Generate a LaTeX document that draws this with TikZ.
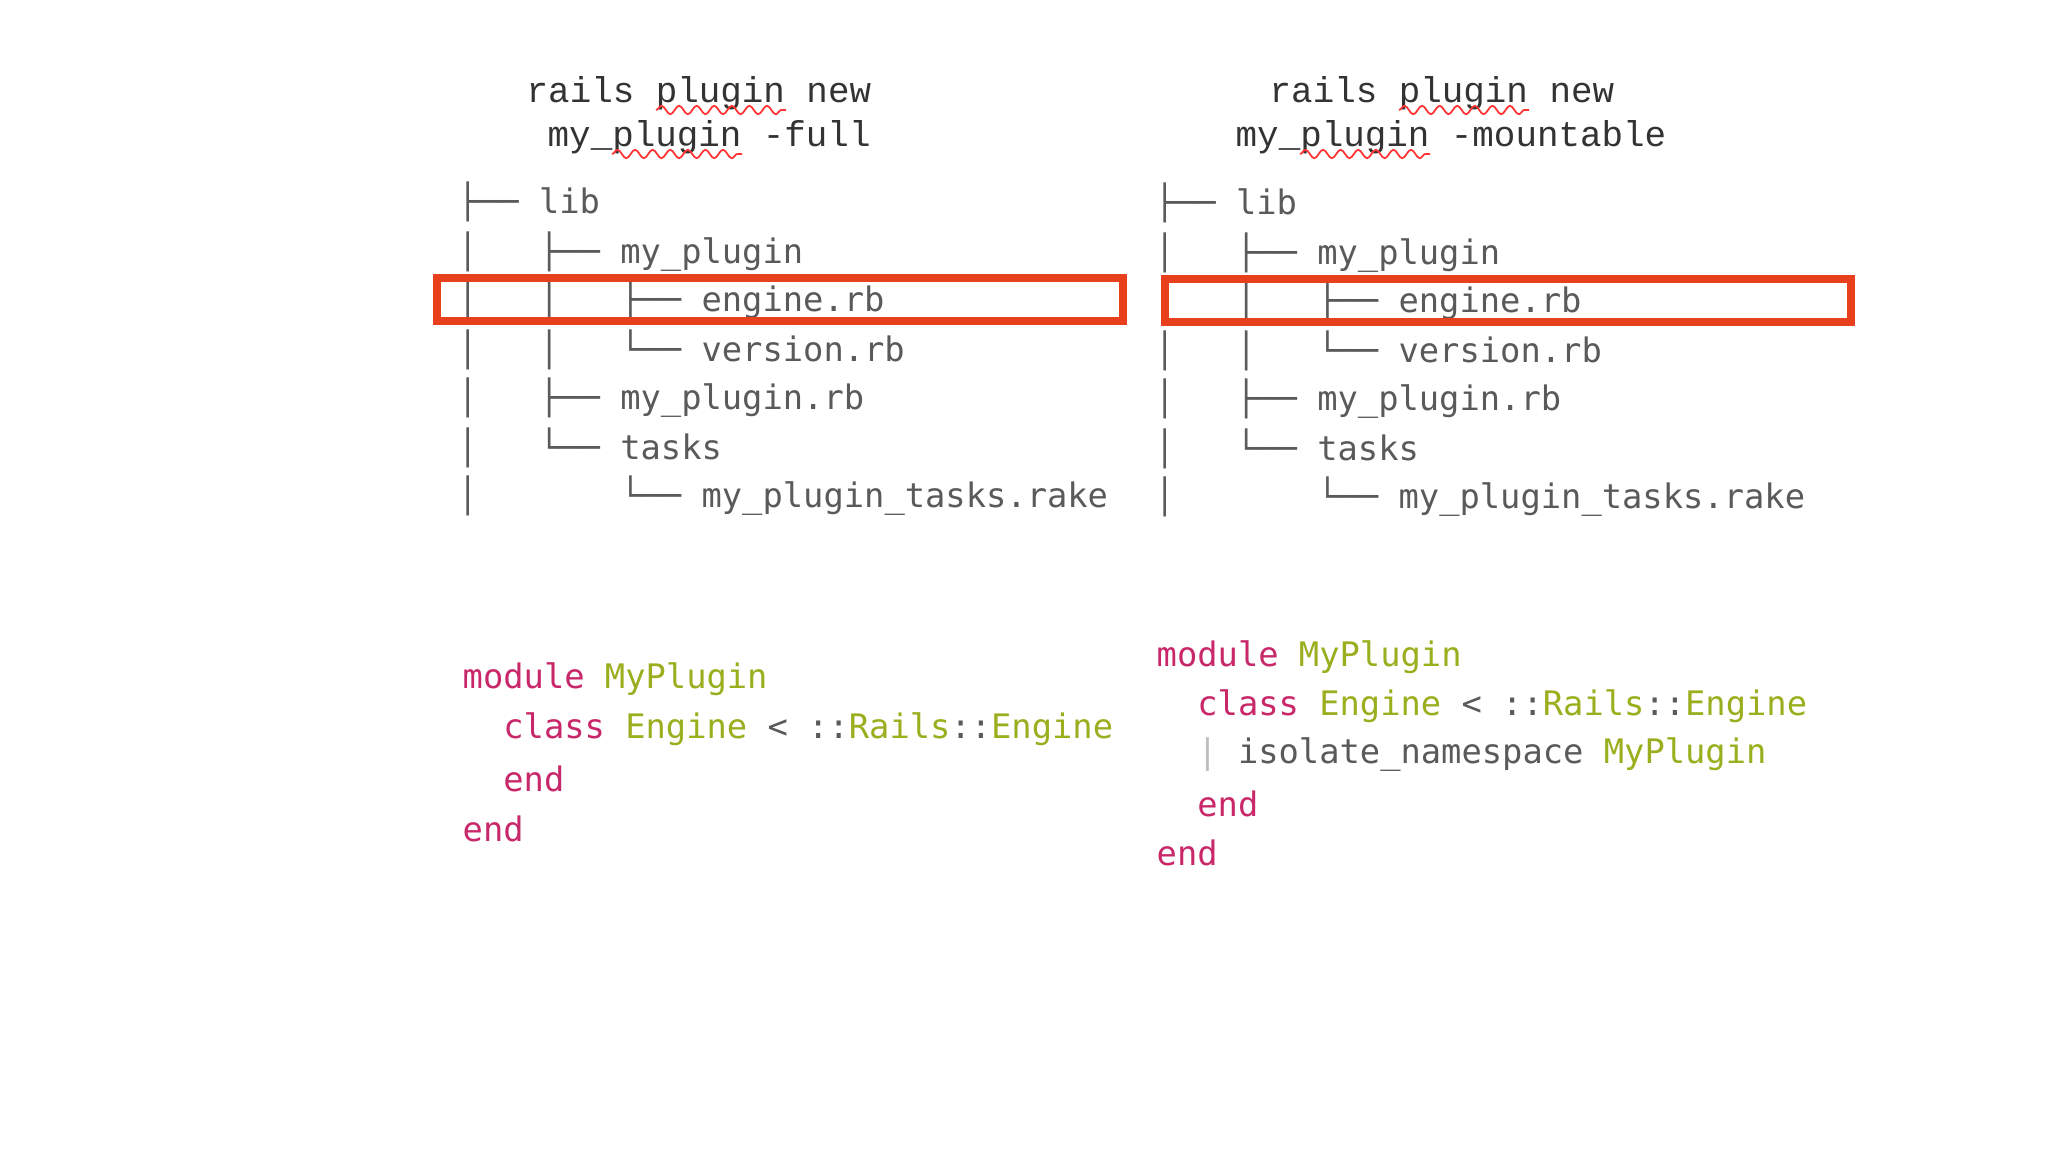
\documentclass[tikz,border=0pt]{standalone}
\usepackage{fontspec}
\setmonofont{DejaVu Sans Mono}
\newfontfamily\titlefont{Liberation Mono}
\usetikzlibrary{decorations.pathmorphing}
\definecolor{tg}{HTML}{5A5A5A}
\definecolor{kw}{HTML}{C8286A}
\definecolor{cn}{HTML}{9AAE1E}
\definecolor{rb}{HTML}{E8401C}
\begin{document}
\begin{tikzpicture}[x=0.01cm,y=-0.01cm,
  tree/.style={anchor=west,inner sep=0,font=\ttfamily\fontsize{9.6}{11}\selectfont,text=tg},
  ttl/.style={anchor=west,inner sep=0,font=\titlefont\fontsize{10.2}{12}\selectfont,text=black!80},
  code/.style={anchor=west,inner sep=0,font=\ttfamily\fontsize{9.6}{11}\selectfont,text=tg},
  hl/.style={draw=rb,line width=2.2pt},
  sq/.style={draw=red!80,line width=0.5pt,decorate,decoration={snake,amplitude=1.2,segment length=5}}]
\useasboundingbox (0,0) rectangle (2048,1152);
\fill[white] (0,0) rectangle (2048,1152);
% titles
\node[ttl] (t1) at (526,93) {rails plugin new};
\node[ttl] (t2) at (547,137) {my\_plugin -full};
\node[ttl] (t3) at (1269,93) {rails plugin new};
\node[ttl] (t4) at (1235,137) {my\_plugin -mountable};
\coordinate (s1a) at (656,110); \coordinate (s1b) at (786,110);
\coordinate (s2a) at (612,154); \coordinate (s2b) at (742,154);
\coordinate (s3a) at (1399,110); \coordinate (s3b) at (1529,110);
\coordinate (s4a) at (1300,154); \coordinate (s4b) at (1430,154);
\draw[sq] (s1a) -- (s1b); \draw[sq] (s2a) -- (s2b);
\draw[sq] (s3a) -- (s3b); \draw[sq] (s4a) -- (s4b);
% trees
\foreach \i/\t/\y in {1/{├──~lib}/202,2/{│~~~├──~my\_plugin}/252,3/{│~~~│~~~├──~engine.rb}/300,4/{│~~~│~~~└──~version.rb}/350,5/{│~~~├──~my\_plugin.rb}/398,6/{│~~~└──~tasks}/448,7/{│~~~~~~~└──~my\_plugin\_tasks.rake}/496}{
  \node[tree] (l\i) at (457,\y) {\t};
  \node[tree] (r\i) at (1154,\y+1) {\t};
}
\coordinate (b1a) at (437,278); \coordinate (b1b) at (1123,321);
\coordinate (b2a) at (1165,279); \coordinate (b2b) at (1851,322);
\draw[hl] (b1a) rectangle (b1b);
\draw[hl] (b2a) rectangle (b2b);
% code left
\node[code] (c1) at (462,679) {\textcolor{kw}{module} \textcolor{cn}{MyPlugin}};
\node[code] (c2) at (462,729) {\phantom{xx}\textcolor{kw}{class} \textcolor{cn}{Engine} < ::\textcolor{cn}{Rails}::\textcolor{cn}{Engine}};
\node[code] (c3) at (462,779) {\phantom{xx}\textcolor{kw}{end}};
\node[code] (c4) at (462,829) {\textcolor{kw}{end}};
% code right
\node[code] (d1) at (1156,657) {\textcolor{kw}{module} \textcolor{cn}{MyPlugin}};
\node[code] (d2) at (1156,706) {\phantom{xx}\textcolor{kw}{class} \textcolor{cn}{Engine} < ::\textcolor{cn}{Rails}::\textcolor{cn}{Engine}};
\node[code] (d3) at (1156,755) {\phantom{xx}\textcolor{black!25}{|} isolate\_namespace \textcolor{cn}{MyPlugin}};
\node[code] (d4) at (1156,804) {\phantom{xx}\textcolor{kw}{end}};
\node[code] (d5) at (1156,853) {\textcolor{kw}{end}};
\end{tikzpicture}
\end{document}
